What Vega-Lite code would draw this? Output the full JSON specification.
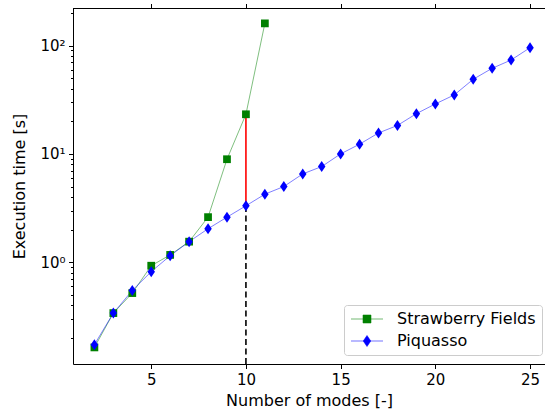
{
  "$schema": "https://vega.github.io/schema/vega-lite/v6.json",
  "width": 472,
  "height": 356,
  "autosize": {"type": "none"},
  "padding": {"left": 73, "top": 8, "right": 0, "bottom": 46},
  "background": "white",
  "config": {
    "view": {"stroke": null},
    "font": "DejaVu Sans",
    "axis": {
      "labelFont": "DejaVu Sans", "titleFont": "DejaVu Sans",
      "labelFontSize": 15, "titleFontSize": 16, "titleFontWeight": "normal",
      "labelColor": "black", "titleColor": "black",
      "domainColor": "black", "tickColor": "black", "domainWidth": 1, "tickWidth": 1,
      "grid": false, "labelPadding": 3.5
    },
    "legend": {"labelFont": "DejaVu Sans", "labelFontSize": 16, "labelColor": "black"}
  },
  "datasets": {
    "pts": [
      {"x": 2, "t": 0.164, "series": "Strawberry Fields"},
      {"x": 3, "t": 0.34, "series": "Strawberry Fields"},
      {"x": 4, "t": 0.52, "series": "Strawberry Fields"},
      {"x": 5, "t": 0.93, "series": "Strawberry Fields"},
      {"x": 6, "t": 1.17, "series": "Strawberry Fields"},
      {"x": 7, "t": 1.55, "series": "Strawberry Fields"},
      {"x": 8, "t": 2.61, "series": "Strawberry Fields"},
      {"x": 9, "t": 8.93, "series": "Strawberry Fields"},
      {"x": 10, "t": 23.2, "series": "Strawberry Fields"},
      {"x": 11, "t": 160, "series": "Strawberry Fields"},
      {"x": 2, "t": 0.174, "series": "Piquasso"},
      {"x": 3, "t": 0.34, "series": "Piquasso"},
      {"x": 4, "t": 0.55, "series": "Piquasso"},
      {"x": 5, "t": 0.82, "series": "Piquasso"},
      {"x": 6, "t": 1.15, "series": "Piquasso"},
      {"x": 7, "t": 1.55, "series": "Piquasso"},
      {"x": 8, "t": 2.04, "series": "Piquasso"},
      {"x": 9, "t": 2.61, "series": "Piquasso"},
      {"x": 10, "t": 3.32, "series": "Piquasso"},
      {"x": 11, "t": 4.25, "series": "Piquasso"},
      {"x": 12, "t": 5.0, "series": "Piquasso"},
      {"x": 13, "t": 6.54, "series": "Piquasso"},
      {"x": 14, "t": 7.64, "series": "Piquasso"},
      {"x": 15, "t": 10.0, "series": "Piquasso"},
      {"x": 16, "t": 12.3, "series": "Piquasso"},
      {"x": 17, "t": 15.6, "series": "Piquasso"},
      {"x": 18, "t": 18.3, "series": "Piquasso"},
      {"x": 19, "t": 23.5, "series": "Piquasso"},
      {"x": 20, "t": 28.9, "series": "Piquasso"},
      {"x": 21, "t": 35.0, "series": "Piquasso"},
      {"x": 22, "t": 48.8, "series": "Piquasso"},
      {"x": 23, "t": 61.6, "series": "Piquasso"},
      {"x": 24, "t": 73.5, "series": "Piquasso"},
      {"x": 25, "t": 95.4, "series": "Piquasso"}
    ],
    "vlines": [
      {"x": 10, "lo": 0.1153, "hi": 3.32, "kind": "dash"},
      {"x": 10, "lo": 3.32, "hi": 23.2, "kind": "gap"}
    ]
  },
  "encoding": {
    "x": {"field": "x", "type": "quantitative",
      "scale": {"domain": [0.87, 25.79], "nice": false, "zero": false},
      "axis": {"values": [5, 10, 15, 20, 25], "title": "Number of modes [-]", "tickSize": 4.5, "titlePadding": 5}},
    "y": {"field": "t", "type": "quantitative",
      "scale": {"type": "log", "domain": [0.1153, 221.8], "nice": false},
      "axis": {
        "values": [0.2,0.3,0.4,0.5,0.6,0.7,0.8,0.9,1,2,3,4,5,6,7,8,9,10,20,30,40,50,60,70,80,90,100,200],
        "labelExpr": "datum.value == 1 ? '10⁰' : datum.value == 10 ? '10¹' : datum.value == 100 ? '10²' : ''",
        "tickSize": {"condition": {"test": "datum.value == 1 || datum.value == 10 || datum.value == 100", "value": 4.5}, "value": 2.5},
        "title": "Execution time [s]", "titlePadding": 12
      }}
  },
  "layer": [
    {
      "data": {"name": "pts"},
      "transform": [{"filter": "datum.series == 'Strawberry Fields'"}],
      "mark": {"type": "line", "color": "#008000", "opacity": 0.5, "strokeWidth": 1}
    },
    {
      "data": {"name": "pts"},
      "transform": [{"filter": "datum.series == 'Piquasso'"}],
      "mark": {"type": "line", "color": "#0000ff", "opacity": 0.5, "strokeWidth": 1}
    },
    {
      "data": {"name": "vlines"},
      "transform": [{"filter": "datum.kind == 'dash'"}],
      "mark": {"type": "rule", "color": "black", "strokeWidth": 1.6, "strokeDash": [6, 3.5]},
      "encoding": {"y": {"field": "lo", "type": "quantitative"}, "y2": {"field": "hi"}}
    },
    {
      "data": {"name": "vlines"},
      "transform": [{"filter": "datum.kind == 'gap'"}],
      "mark": {"type": "rule", "color": "red", "strokeWidth": 1.6},
      "encoding": {"y": {"field": "lo", "type": "quantitative"}, "y2": {"field": "hi"}}
    },
    {
      "data": {"name": "pts"},
      "transform": [{"filter": "datum.series == 'Strawberry Fields'"}],
      "mark": {"type": "point", "shape": "square", "filled": true, "color": "#008000", "size": 60, "opacity": 1}
    },
    {
      "data": {"name": "pts"},
      "transform": [{"filter": "datum.series == 'Piquasso'"}],
      "mark": {"type": "point", "shape": "M0,-1L0.68,0L0,1L-0.68,0Z", "filled": true, "color": "#0000ff", "size": 121, "opacity": 1}
    },
    {
      "data": {"name": "pts"},
      "mark": {"type": "point", "filled": true, "opacity": 0},
      "encoding": {
        "x": {"field": "x", "type": "quantitative",
          "axis": {"orient": "top", "labels": false, "labelExpr": "''", "ticks": false, "tickCount": 1, "title": null, "domain": true, "grid": false}},
        "color": {"field": "series", "type": "nominal",
          "scale": {"domain": ["Strawberry Fields", "Piquasso"], "range": ["#008000", "#0000ff"]},
          "legend": {"title": null, "orient": "none", "legendX": 271, "legendY": 297,
            "symbolOpacity": 1, "symbolSize": 100, "symbolStrokeWidth": 1,
            "symbolOffset": 9, "labelOffset": 22, "rowPadding": 6, "padding": 6,
            "fillColor": "rgba(255,255,255,0.8)", "strokeColor": "#cccccc", "cornerRadius": 3,
            "encode": {"symbols": {"update": {
              "opacity": {"value": 1}, "fillOpacity": {"value": 1}, "strokeOpacity": {"value": 0.55},
              "stroke": {"signal": "scale('color', datum.value)"}, "strokeWidth": {"value": 1}}}}}},
        "shape": {"field": "series", "type": "nominal",
          "scale": {"domain": ["Strawberry Fields", "Piquasso"],
            "range": ["M-3.2,0H3.2M-0.8,-0.8H0.8V0.8H-0.8Z", "M-3.2,0H3.2M0,-1.1L0.75,0L0,1.1L-0.75,0Z"]}}
      }
    }
  ],
  "resolve": {"axis": {"x": "independent"}}
}
